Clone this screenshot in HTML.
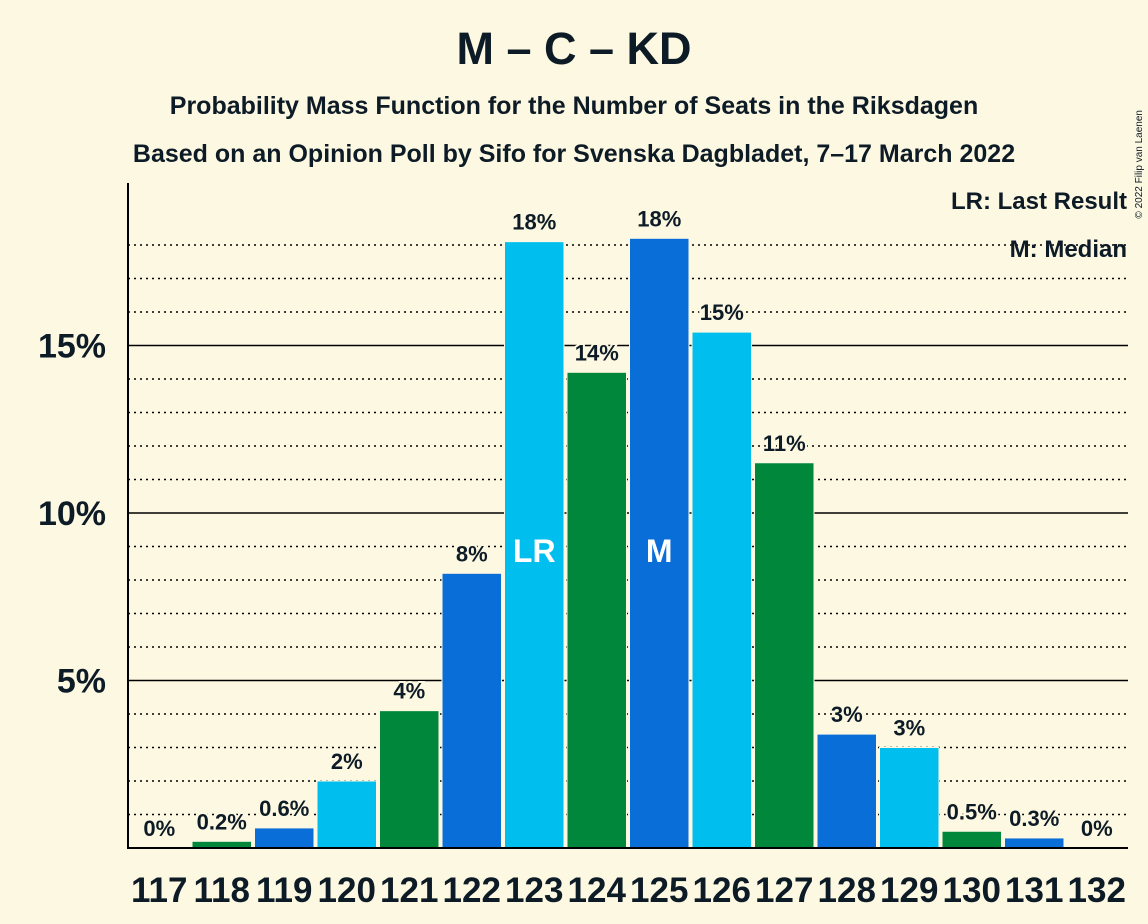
<!DOCTYPE html>
<html><head><meta charset="utf-8"><style>
html,body{margin:0;padding:0;background:#fdf8e2;}
svg{display:block;font-family:"Liberation Sans",sans-serif;}
</style></head><body>
<svg id="c" width="1148" height="924" viewBox="0 0 1148 924">
<rect width="1148" height="924" fill="#fdf8e2"/>
<text x="574" y="64" text-anchor="middle" font-size="45" font-weight="bold" fill="#0d1b26">M – C – KD</text>
<text x="574" y="114" text-anchor="middle" font-size="25" font-weight="bold" fill="#0d1b26">Probability Mass Function for the Number of Seats in the Riksdagen</text>
<text x="574" y="162" text-anchor="middle" font-size="25" font-weight="bold" fill="#0d1b26">Based on an Opinion Poll by Sifo for Svenska Dagbladet, 7–17 March 2022</text>
<text x="1142" y="110" font-size="10" fill="#0d1b26" transform="rotate(-90 1142 110)" text-anchor="end">© 2022 Filip van Laenen</text>
<g id="grid"></g>
<g id="bars"></g>
<g id="labels"></g>
<g id="xt"></g>
<g id="yt"></g>
<line x1="128" y1="183" x2="128" y2="849" stroke="#000" stroke-width="2"/>
<line x1="127" y1="848" x2="1128" y2="848" stroke="#000" stroke-width="2"/>
<text x="1127" y="209" text-anchor="end" font-size="24" font-weight="bold" fill="#0d1b26">LR: Last Result</text>
<text x="1127" y="257" text-anchor="end" font-size="24" font-weight="bold" fill="#0d1b26" stroke="#fdf8e2" stroke-width="0">M: Median</text>
</svg>
<script>
const categories=[117,118,119,120,121,122,123,124,125,126,127,128,129,130,131,132];
const values=[0,0.2,0.6,2.0,4.1,8.2,18.1,14.2,18.2,15.4,11.5,3.4,3.0,0.5,0.3,0];
const valueLabels=["0%","0.2%","0.6%","2%","4%","8%","18%","14%","18%","15%","11%","3%","3%","0.5%","0.3%","0%"];
const yTicks=[5,10,15];
const yTickLabels=["5%","10%","15%"];
const lastResult=123, median=125;
const NS="http://www.w3.org/2000/svg";
const x0=128,step=62.5,base=848,pp=33.5;
const X=i=>x0+i*step, Y=v=>base-v*pp;
const colors=["#00bfee","#00873c","#0a6ed8"];
function mk(tag,attrs,parent){const e=document.createElementNS(NS,tag);for(const k in attrs)e.setAttribute(k,attrs[k]);parent.appendChild(e);return e;}
const grid=document.getElementById('grid');
for(let p=1;p<=18;p++){
  const solid=yTicks.includes(p);
  const l=mk('line',{x1:128,x2:1128,y1:Y(p),y2:Y(p),stroke:'#000','stroke-width':solid?1.6:1.5,'stroke-dasharray':solid?'':'2,4'},grid);
  
  
}
const bars=document.getElementById('bars'),labels=document.getElementById('labels'),xt=document.getElementById('xt'),yt=document.getElementById('yt');
categories.forEach((c,i)=>{
  const v=values[i];
  if(v>0){
    const r=mk('rect',{x:X(i)+1.5,y:Y(v),width:step-3,height:base-Y(v),fill:colors[i%3],stroke:'#fdf8e2','stroke-width':1},bars);
    
    
  }
  const cx=X(i)+step/2;
  const t=mk('text',{x:cx,y:Y(v)-12,'text-anchor':'middle','font-size':22,'font-weight':'bold',fill:'#0d1b26',stroke:'#fdf8e2','stroke-width':4,'paint-order':'stroke'},labels);
  if(v===0)t.setAttribute('y',base-12);
  t.textContent=valueLabels[i];
  
  
  const xl=mk('text',{x:cx,y:902,'text-anchor':'middle','font-size':35,'font-weight':'bold',fill:'#0d1b26'},xt);
  xl.textContent=c;
  
  
  if(c===lastResult||c===median){
    const m=mk('text',{x:cx,y:Y(8.9)+12,'text-anchor':'middle','font-size':32,'font-weight':'bold',fill:'#fff'},labels);
    m.textContent=c===lastResult?'LR':'M';
    
    
  }
});
yTicks.forEach((p,i)=>{
  const t=mk('text',{x:106,y:Y(p)+12,'text-anchor':'end','font-size':34,'font-weight':'bold',fill:'#0d1b26'},yt);
  t.textContent=yTickLabels[i];
  
  
});
</script>
</body></html>
